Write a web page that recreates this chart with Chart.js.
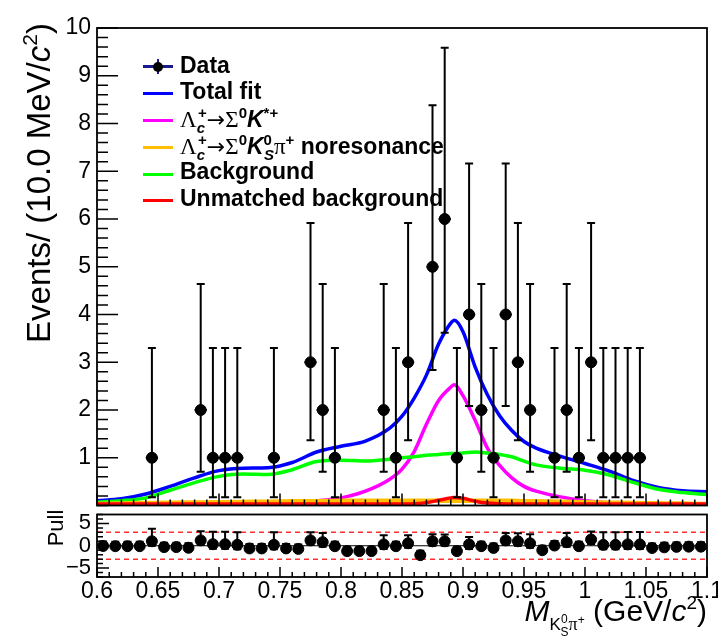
<!DOCTYPE html>
<html>
<head>
<meta charset="utf-8">
<script src="https://cdn.jsdelivr.net/npm/chart.js@4.4.1/dist/chart.umd.min.js"></script>
<style>
  body { margin: 0; background: #fff; }
  #wrap { position: relative; width: 718px; height: 641px; overflow: hidden;
          font-family: 'Liberation Sans', Arial, sans-serif; color: #000; }
  canvas { position: absolute; left: 0; }
  #topCanvas { top: 0; }
  #pullCanvas { top: 508px; }
  .txt { position: absolute; white-space: nowrap; z-index: 5; }
  .gr { font-family: 'Liberation Serif', 'Times New Roman', serif; font-weight: normal; }
  .arr { font-family: 'DejaVu Sans', sans-serif; font-weight: normal; font-size: 22px; }
  .rot { transform: rotate(-90deg); text-align: center; }
  .leg { left: 180px; font-weight: bold; font-size: 23px; line-height: 26px; height: 26px; }
  .lline { position: absolute; left: 143px; width: 30px; height: 3px; z-index: 5; }
  .s { line-height: 0; }
  .up { font-size: 15px; vertical-align: 9px; line-height: 0; }
  .dn { font-size: 15px; vertical-align: -6px; line-height: 0; }
</style>
</head>
<body>
<div id="wrap">
  <canvas id="topCanvas" width="718" height="512"></canvas>
  <canvas id="pullCanvas" width="718" height="133"></canvas>

  <!-- axis titles -->
  <div class="txt rot" style="left:-161px; top:165px; width:400px; height:36px; font-size:33px; line-height:36px;">
    Events/ (10.0 MeV/<i>c</i><span class="s" style="font-size:21px; vertical-align:13px;">2</span>)
  </div>
  <div class="txt rot" style="left:6px; top:516px; width:100px; height:24px; font-size:22px; line-height:24px;">Pull</div>
  <div class="txt" style="right:11px; top:595px; font-size:30px; line-height:31px; height:31px;">
    <i>M</i><span class="s" style="font-size:17px; vertical-align:-9px;">K<span class="s" style="font-size:12px; vertical-align:7px;">0</span><span class="s" style="font-size:12px; vertical-align:-6px; margin-left:-7px;">S</span><span class="gr" style="font-size:18px;">π</span><span class="s" style="font-size:12px; vertical-align:6px;">+</span></span> (GeV/<i>c</i><span class="s" style="font-size:19px; vertical-align:12px;">2</span>)
  </div>

  <!-- legend -->
  <div class="lline" style="top:65px; background:#1a1a8c;"></div>
  <div class="lline" style="top:59px; left:157px; width:2px; height:15px; background:#1a1a8c;"></div>
  <div class="lline" style="top:61.5px; left:153px; width:10px; height:10px; border-radius:50%; background:#000;"></div>
  <div class="lline" style="top:92px; background:#0000ff;"></div>
  <div class="lline" style="top:119px; background:#ff00ff;"></div>
  <div class="lline" style="top:146px; background:#ffbf00;"></div>
  <div class="lline" style="top:173px; background:#00ff00;"></div>
  <div class="lline" style="top:199px; background:#ff0000;"></div>

  <div class="txt leg" style="top:51.5px;">Data</div>
  <div class="txt leg" style="top:78px;">Total fit</div>
  <div class="txt leg" style="top:106px;"><span class="gr">Λ</span><i class="dn">c</i><span class="up" style="margin-left:-7px;">+</span><span class="arr">→</span><span class="gr">Σ</span><span class="up">0</span><i>K</i><span class="up">*+</span></div>
  <div class="txt leg" style="top:133px;"><span class="gr">Λ</span><i class="dn">c</i><span class="up" style="margin-left:-7px;">+</span><span class="arr">→</span><span class="gr">Σ</span><span class="up">0</span><i>K</i><span class="up">0</span><i class="dn" style="margin-left:-8px;">S</i><span class="gr">π</span><span class="up">+</span> noresonance</div>
  <div class="txt leg" style="top:158px;">Background</div>
  <div class="txt leg" style="top:184.5px;">Unmatched background</div>
</div>

<script>
// bin centres (10 MeV bins) and observed counts
const binCenters = [0.605, 0.615, 0.625, 0.635, 0.645, 0.655, 0.665, 0.675, 0.685, 0.695,
                    0.705, 0.715, 0.725, 0.735, 0.745, 0.755, 0.765, 0.775, 0.785, 0.795,
                    0.805, 0.815, 0.825, 0.835, 0.845, 0.855, 0.865, 0.875, 0.885, 0.895,
                    0.905, 0.915, 0.925, 0.935, 0.945, 0.955, 0.965, 0.975, 0.985, 0.995,
                    1.005, 1.015, 1.025, 1.035, 1.045, 1.055, 1.065, 1.075, 1.085, 1.095];
const counts = [0, 0, 0, 0, 1, 0, 0, 0, 2, 1,
                1, 1, 0, 0, 1, 0, 0, 3, 2, 1,
                0, 0, 0, 2, 1, 3, 0, 5, 6, 1,
                4, 2, 1, 4, 3, 2, 0, 1, 2, 1,
                3, 1, 1, 1, 1, 0, 0, 0, 0, 0];
// Poisson interval ends for a count of n (index = n)
const poissonLow = [0, 0.173, 0.708, 1.367, 2.086, 2.840, 3.620];
const poissonHigh = [1.148, 3.300, 4.638, 5.918, 7.163, 8.382, 9.584];

// pulls per bin, with their error bar lengths
const pulls = [-0.05, -0.1, -0.1, -0.1, 1.0, -0.3, -0.3, -0.45, 1.2, 0.35,
               0.35, 0.2, -0.6, -0.6, 0.2, -0.6, -0.7, 1.2, 0.8, -0.1,
               -1.2, -1.2, -1.2, 0.3, -0.1, 0.55, -2.1, 1.0, 1.0, -1.2,
               0.3, -0.1, -0.5, 1.2, 1.0, 0.55, -1.0, 0.05, 0.8, -0.1,
               1.4, 0.2, 0.2, 0.3, 0.3, -0.5, -0.35, -0.25, -0.2, -0.2];
const pullErrUp = [1, 1, 1, 1, 2.8, 1, 1, 1, 2.05, 2.8,
                   2.8, 2.8, 1, 1, 2.8, 1, 1, 1.8, 2.05, 1,
                   1, 1, 1, 2.05, 1, 1.8, 1, 1.55, 1.5, 1,
                   1.65, 1, 1, 1.65, 1.8, 2.05, 1, 1, 2.05, 1,
                   1.8, 2.8, 2.8, 2.8, 2.8, 1, 1, 1, 1, 1];
const pullErrDown = [0, 0, 0, 0, 1, 0, 0, 0, 1, 1,
                     1, 1, 0, 0, 1, 0, 0, 1, 1, 0.36,
                     0, 0, 0, 1, 0.36, 1, 0, 1, 1, 0.36,
                     1, 0.49, 0.36, 1, 1, 1, 0, 0.36, 1, 0.36,
                     1, 1, 1, 1, 1, 0, 0, 0, 0, 0];

// fit curves sampled along the mass axis
const curveX = [0.600, 0.620, 0.640, 0.660, 0.680, 0.700, 0.720, 0.740, 0.760, 0.780,
                0.800, 0.820, 0.840, 0.850, 0.860, 0.870, 0.880, 0.890, 0.893, 0.900,
                0.910, 0.920, 0.930, 0.940, 0.950, 0.960, 0.980, 1.000, 1.020, 1.040,
                1.060, 1.080, 1.100];
const totalFit = [0.10, 0.14, 0.24, 0.40, 0.58, 0.73, 0.78, 0.79, 0.90, 1.12,
                  1.24, 1.35, 1.62, 1.87, 2.25, 2.73, 3.38, 3.82, 3.88, 3.64,
                  2.90, 2.32, 1.88, 1.57, 1.34, 1.20, 1.03, 0.88, 0.72, 0.52,
                  0.38, 0.31, 0.29];
const signalKstar = [0.02, 0.02, 0.02, 0.025, 0.03, 0.035, 0.04, 0.05, 0.07, 0.10,
                     0.16, 0.30, 0.55, 0.76, 1.13, 1.70, 2.20, 2.48, 2.53, 2.30,
                     1.78, 1.20, 0.84, 0.58, 0.40, 0.30, 0.18, 0.10, 0.06, 0.045,
                     0.035, 0.03, 0.03];
const noResonance = [0.03, 0.04, 0.05, 0.06, 0.065, 0.07, 0.075, 0.08, 0.09, 0.09,
                     0.10, 0.10, 0.10, 0.10, 0.10, 0.10, 0.10, 0.10, 0.10, 0.10,
                     0.10, 0.10, 0.10, 0.10, 0.09, 0.09, 0.08, 0.07, 0.06, 0.05,
                     0.045, 0.04, 0.03];
const background = [0.07, 0.10, 0.16, 0.32, 0.48, 0.61, 0.66, 0.65, 0.75, 0.92,
                    0.95, 0.93, 0.97, 1.00, 1.02, 1.05, 1.07, 1.09, 1.09, 1.10,
                    1.12, 1.10, 1.07, 1.02, 0.93, 0.85, 0.78, 0.74, 0.64, 0.48,
                    0.34, 0.27, 0.23];
const unmatched = [0.03, 0.03, 0.03, 0.03, 0.03, 0.03, 0.03, 0.03, 0.03, 0.03,
                   0.03, 0.03, 0.03, 0.03, 0.035, 0.06, 0.11, 0.16, 0.17, 0.15,
                   0.09, 0.05, 0.035, 0.03, 0.03, 0.03, 0.03, 0.03, 0.03, 0.03,
                   0.03, 0.03, 0.03];

// axis ticks
const xMajorTicks = [0.6, 0.65, 0.7, 0.75, 0.8, 0.85, 0.9, 0.95, 1, 1.05, 1.1];
const yTicks = [1, 2, 3, 4, 5, 6, 7, 8, 9, 10];
const pullTicks = [-5, 0, 5];
const pullLimits = [-3, 3];
const binHalfWidth = 0.005;

const FONT = 'Liberation Sans';

// minor tick positions
const xMinorTicks = [];
for (let i = 0; i <= 50; i++) xMinorTicks.push(0.6 + i * 0.01);
const yMinorTicks = [];
for (let i = 0; i <= 50; i++) yMinorTicks.push(i * 0.2);
const pullMinorTicks = [];
for (let i = -7; i <= 7; i++) pullMinorTicks.push(i);

// ROOT-like frame with inward ticks
const rootFrame = {
  id: 'rootFrame',
  afterDraw(chart, args, opts) {
    const { ctx, chartArea: a, scales } = chart;
    const x = scales.x, y = scales.y;
    ctx.save();
    ctx.strokeStyle = '#000';
    ctx.lineWidth = 1.5;
    ctx.beginPath();
    opts.xMinor.forEach(v => {
      const px = x.getPixelForValue(v);
      ctx.moveTo(px, a.bottom); ctx.lineTo(px, a.bottom - opts.xMinorLen);
    });
    opts.xMajor.forEach(v => {
      const px = x.getPixelForValue(v);
      ctx.moveTo(px, a.bottom); ctx.lineTo(px, a.bottom - opts.xMajorLen);
    });
    opts.yMinor.forEach(v => {
      if (v < y.min || v > y.max) return;
      const py = y.getPixelForValue(v);
      ctx.moveTo(a.left, py); ctx.lineTo(a.left + opts.yMinorLen, py);
    });
    opts.yMajor.forEach(v => {
      const py = y.getPixelForValue(v);
      ctx.moveTo(a.left, py); ctx.lineTo(a.left + opts.yMajorLen, py);
    });
    ctx.stroke();
    ctx.lineWidth = 1.8;
    ctx.strokeRect(a.left, a.top, a.right - a.left, a.bottom - a.top);
    ctx.restore();
  }
};

// vertical / horizontal error bars
const errorBars = {
  id: 'errorBars',
  afterDatasetsDraw(chart, args, opts) {
    const { ctx, scales: { x, y } } = chart;
    ctx.save();
    ctx.strokeStyle = '#000';
    ctx.lineWidth = 2;
    ctx.beginPath();
    opts.points.forEach(p => {
      const px = x.getPixelForValue(p.x);
      const top = y.getPixelForValue(p.hi);
      const bot = y.getPixelForValue(p.lo);
      ctx.moveTo(px, top); ctx.lineTo(px, bot);
      ctx.moveTo(px - opts.cap, top); ctx.lineTo(px + opts.cap, top);
      if (p.lo < p.y) { ctx.moveTo(px - opts.cap, bot); ctx.lineTo(px + opts.cap, bot); }
      if (opts.halfWidth) {
        const py = y.getPixelForValue(p.y);
        ctx.moveTo(x.getPixelForValue(p.x - opts.halfWidth), py);
        ctx.lineTo(x.getPixelForValue(p.x + opts.halfWidth), py);
      }
    });
    ctx.stroke();
    ctx.restore();
  }
};

// zero line and +-3 dashed lines in the pull panel
const pullLines = {
  id: 'pullLines',
  beforeDatasetsDraw(chart, args, opts) {
    const { ctx, chartArea: a, scales: { y } } = chart;
    ctx.save();
    ctx.strokeStyle = '#ff3030';
    ctx.lineWidth = 1.5;
    ctx.setLineDash([5, 4]);
    opts.limits.forEach(v => {
      const py = y.getPixelForValue(v);
      ctx.beginPath(); ctx.moveTo(a.left, py); ctx.lineTo(a.right, py); ctx.stroke();
    });
    ctx.setLineDash([]);
    ctx.strokeStyle = '#000';
    ctx.lineWidth = 1.2;
    const p0 = y.getPixelForValue(0);
    ctx.beginPath(); ctx.moveTo(a.left, p0); ctx.lineTo(a.right, p0); ctx.stroke();
    ctx.restore();
  }
};

// data points in the upper panel (only filled bins are drawn)
const dataPoints = [];
binCenters.forEach((c, i) => {
  if (counts[i] > 0) {
    dataPoints.push({ x: c, y: counts[i], lo: poissonLow[counts[i]], hi: poissonHigh[counts[i]] });
  }
});
const pullPoints = binCenters.map((c, i) => ({
  x: c, y: pulls[i], lo: pulls[i] - pullErrDown[i], hi: pulls[i] + pullErrUp[i]
}));

function curve(values, color, width) {
  return {
    type: 'line',
    data: curveX.map((x, i) => ({ x: x, y: values[i] })),
    borderColor: color,
    borderWidth: width,
    pointRadius: 0,
    fill: false,
    cubicInterpolationMode: 'monotone'
  };
}

new Chart(document.getElementById('topCanvas'), {
  type: 'scatter',
  data: {
    datasets: [
      { data: dataPoints, backgroundColor: '#000', borderColor: '#000', pointRadius: 5.5, pointHoverRadius: 5.5 },
      curve(unmatched, '#ff0000', 3.5),
      curve(noResonance, '#ffbf00', 4.5),
      curve(background, '#00ff00', 3.5),
      curve(signalKstar, '#ff00ff', 3.5),
      curve(totalFit, '#0000ff', 3.5)
    ]
  },
  options: {
    responsive: false,
    animation: false,
    events: [],
    layout: { padding: { top: 28, right: 11, bottom: 2, left: 0 } },
    plugins: {
      legend: { display: false },
      tooltip: { enabled: false },
      rootFrame: { xMajor: xMajorTicks, xMinor: xMinorTicks, xMajorLen: 12, xMinorLen: 6,
                   yMajor: yTicks, yMinor: yMinorTicks, yMajorLen: 21, yMinorLen: 11 },
      errorBars: { points: dataPoints, cap: 4, halfWidth: binHalfWidth }
    },
    scales: {
      x: { type: 'linear', min: 0.6, max: 1.1, display: false },
      y: {
        type: 'linear', min: 0, max: 10,
        grid: { display: false, drawTicks: false },
        border: { display: false },
        afterBuildTicks: s => { s.ticks = yTicks.map(v => ({ value: v })); },
        afterFit: s => { s.width = 97; s.paddingTop = 0; s.paddingBottom = 0; },
        ticks: { color: '#000', padding: 6, font: { family: FONT, size: 23 } }
      }
    }
  },
  plugins: [rootFrame, errorBars]
});

new Chart(document.getElementById('pullCanvas'), {
  type: 'scatter',
  data: {
    datasets: [
      { data: pullPoints, backgroundColor: '#000', borderColor: '#000', pointRadius: 5.5, pointHoverRadius: 5.5 }
    ]
  },
  options: {
    responsive: false,
    animation: false,
    events: [],
    layout: { padding: { top: 3, right: 11, bottom: 0, left: 0 } },
    plugins: {
      legend: { display: false },
      tooltip: { enabled: false },
      rootFrame: { xMajor: xMajorTicks, xMinor: xMinorTicks, xMajorLen: 10, xMinorLen: 5,
                   yMajor: pullTicks, yMinor: pullMinorTicks, yMajorLen: 12, yMinorLen: 6 },
      errorBars: { points: pullPoints, cap: 4, halfWidth: 0 },
      pullLines: { limits: pullLimits }
    },
    scales: {
      x: {
        type: 'linear', min: 0.6, max: 1.1,
        grid: { display: false, drawTicks: false },
        border: { display: false },
        afterBuildTicks: s => { s.ticks = xMajorTicks.map(v => ({ value: v })); },
        afterFit: s => { s.height = 64; s.paddingLeft = 0; s.paddingRight = 0; },
        ticks: { color: '#000', padding: 1, autoSkip: false, maxRotation: 0, minRotation: 0,
                 font: { family: FONT, size: 23 }, callback: v => String(v) }
      },
      y: {
        type: 'linear', min: -7, max: 7,
        grid: { display: false, drawTicks: false },
        border: { display: false },
        afterBuildTicks: s => { s.ticks = pullTicks.map(v => ({ value: v })); },
        afterFit: s => { s.width = 97; s.paddingTop = 0; s.paddingBottom = 0; },
        ticks: { color: '#000', padding: 6, font: { family: FONT, size: 22 },
                 callback: v => (v < 0 ? '\u2212' + Math.abs(v) : String(v)) }
      }
    }
  },
  plugins: [rootFrame, errorBars, pullLines]
});
</script>
</body>
</html>
